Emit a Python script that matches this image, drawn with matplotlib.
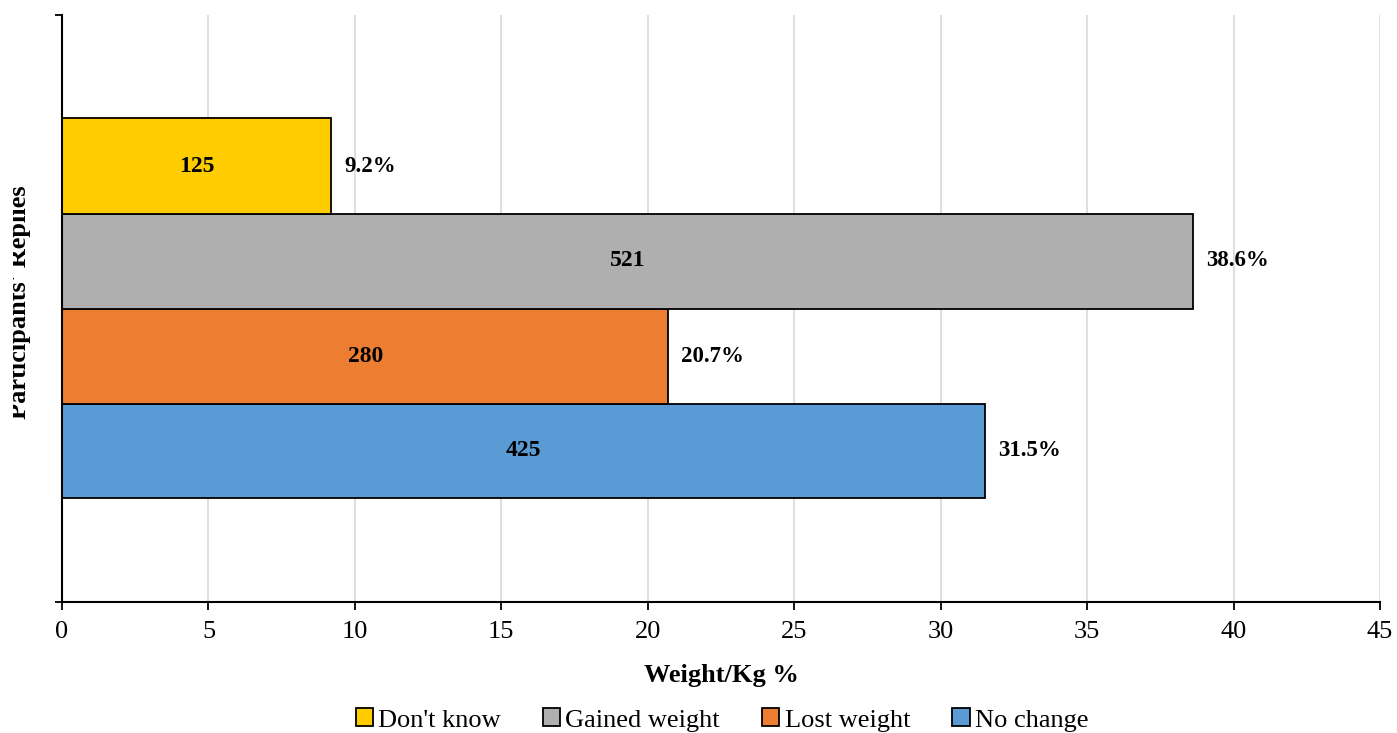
import matplotlib
matplotlib.use("Agg")
import matplotlib.pyplot as plt
from matplotlib.patches import Rectangle

plt.rcParams['font.family'] = ['Liberation Serif', 'DejaVu Serif']

# replies, bottom to top as drawn
categories = ["No change", "Lost weight", "Gained weight", "Don't know"]
percent = [31.5, 20.7, 38.6, 9.2]
counts = [425, 280, 521, 125]
colors = ["#5b9bd5", "#ed7d31", "#afafaf", "#ffcc00"]
xticks = [0, 5, 10, 15, 20, 25, 30, 35, 40, 45]

W, H = 1397, 733
fig = plt.figure(figsize=(W / 100, H / 100), dpi=100)
ax = fig.add_axes([62 / W, 1 - 602 / H, (1380 - 62) / W, (602 - 15) / H])

h = 95 / 587
n = len(categories)
handles = []
for i, (cat, p, c, col) in enumerate(zip(categories, percent, counts, colors)):
    y = 0.5 + (i - (n - 1) / 2) * h
    b = ax.barh(y, p, height=h, color=col, edgecolor="black", linewidth=1.3,
                label=cat, zorder=3)
    handles.append(b)
    ax.text(p / 2, y, str(c), ha="center", va="center", fontsize=17,
            fontweight="bold", zorder=4)
    ax.text(p + 0.45, y, f"{p}%", ha="left", va="center", fontsize=16.5,
            fontweight="bold", zorder=4)

ax.set_xlim(0, 45)
ax.set_ylim(0, 1)
ax.set_xticks(xticks)
ax.set_yticks([0, 1])
ax.set_yticklabels([])
ax.tick_params(axis="x", direction="out", length=6, width=1.3, labelsize=19, pad=8)
ax.tick_params(axis="y", direction="out", length=5, width=1.3)
ax.grid(axis="x", color="#d9d9d9", linewidth=1.2, zorder=0)
for s in ["top", "right"]:
    ax.spines[s].set_visible(False)
for s in ["left", "bottom"]:
    ax.spines[s].set_linewidth(1.5)
    ax.spines[s].set_zorder(5)

ax.set_xlabel("Weight/Kg %", fontsize=19, fontweight="bold", labelpad=15)

# y title sits partly outside the chart frame, so its top is cut off
fig.text(31 / W, 1 - 302 / H, "Participants' Replies", rotation=90,
         ha="right", va="center", fontsize=19, fontweight="bold")
fig.add_artist(Rectangle((0, 0), 13 / W, 1, transform=fig.transFigure,
                         facecolor="white", edgecolor="none", zorder=10))

fig.legend(handles[::-1], categories[::-1], loc="center", ncol=4,
           bbox_to_anchor=(722 / W, 1 - 720 / H), frameon=False, fontsize=19,
           handlelength=0.65, handleheight=0.65, handletextpad=0.2,
           columnspacing=1.6)

fig.savefig("out.png", dpi=100)
